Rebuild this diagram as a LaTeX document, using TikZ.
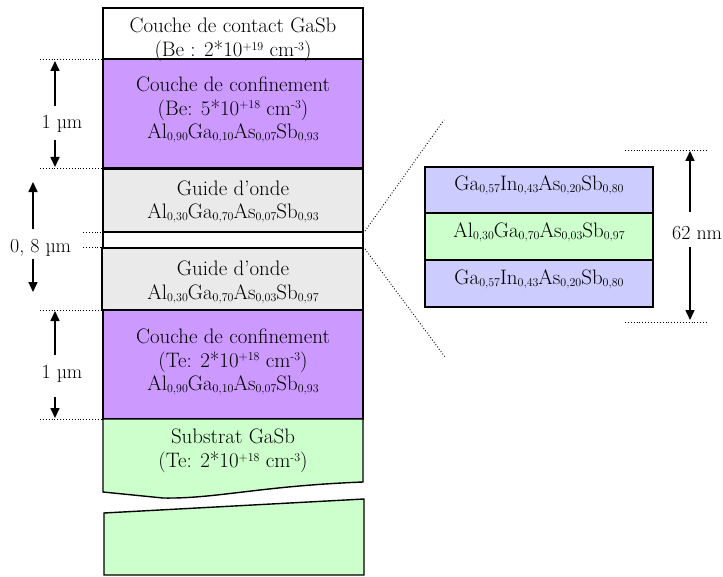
\documentclass[tikz,border=0pt]{standalone}
\usepackage{fontspec}
\usetikzlibrary{arrows.meta}
\definecolor{purp}{RGB}{204,153,255}
\definecolor{lgrey}{RGB}{234,234,234}
\definecolor{lgreen}{RGB}{204,255,204}
\definecolor{lblue}{RGB}{204,204,255}
\newcommand\ix[1]{\raisebox{-0.25ex}{\fontsize{12}{12}\selectfont #1}}
\newcommand\ex[1]{\raisebox{0.7ex}{\fontsize{12}{12}\selectfont #1}}
\tikzset{
  layer/.style={draw=black,line width=1.4bp,inner sep=0pt},
  lbl/.style={align=center,font=\fontsize{21}{23.5}\selectfont,inner sep=0pt,anchor=center},
  dimtxt/.style={font=\fontsize{20}{20}\selectfont,inner sep=0pt},
  guide/.style={dotted,line width=0.9bp},
  dimarrow/.style={line width=1.6bp,-{Triangle[length=10bp,width=9bp]}}
}
\begin{document}
\begin{tikzpicture}[x=1bp,y=-1bp]
\useasboundingbox (0,0) rectangle (723,577);
% main stack
\draw[layer,fill=white] (103,8) rectangle (363,59);
\draw[layer,fill=purp] (103,59) rectangle (363,168);
\draw[layer,fill=lgrey] (103,169) rectangle (363,232);
\draw[layer,fill=white] (103,232) rectangle (363,248);
\draw[layer,fill=lgrey] (102,248) rectangle (363,310);
\draw[layer,fill=purp] (103,310) rectangle (363,419);
\draw[layer,fill=lgreen] (103,419) -- (363,419) -- (363,482)
   .. controls (260,486) and (215,499) .. (163,498) -- (103,492) -- cycle;
\draw[layer,fill=lgreen] (104,513) -- (364,499) -- (364,575) -- (104,575) -- cycle;
% texts
\node[lbl] (t1) at (233,40) {Couche de contact GaSb\\(Be : 2*10\ex{+19} cm\ex{-3})};
\node[lbl] (t2) at (233,110) {Couche de confinement\\(Be: 5*10\ex{+18} cm\ex{-3})\\Al\ix{0,90}Ga\ix{0,10}As\ix{0,07}Sb\ix{0,93}};
\node[lbl] (t3) at (233,202) {Guide d'onde\\Al\ix{0,30}Ga\ix{0,70}As\ix{0,07}Sb\ix{0,93}};
\node[lbl] (t4) at (233,282.5) {Guide d'onde\\Al\ix{0,30}Ga\ix{0,70}As\ix{0,03}Sb\ix{0,97}};
\node[lbl] (t5) at (233,362) {Couche de confinement\\(Te: 2*10\ex{+18} cm\ex{-3})\\Al\ix{0,90}Ga\ix{0,10}As\ix{0,07}Sb\ix{0,93}};
\node[lbl] (t6) at (233,451) {Substrat GaSb\\(Te: 2*10\ex{+18} cm\ex{-3})};
% inset
\draw[layer,fill=lblue] (425,167) rectangle (653,213);
\draw[layer,fill=lgreen] (425,213) rectangle (653,260);
\draw[layer,fill=lblue] (425,260) rectangle (653,307);
\node[lbl] (q1) at (539,185) {Ga\ix{0,57}In\ix{0,43}As\ix{0,20}Sb\ix{0,80}};
\node[lbl] (q2) at (539,232) {Al\ix{0,30}Ga\ix{0,70}As\ix{0,03}Sb\ix{0,97}};
\node[lbl] (q3) at (539,279) {Ga\ix{0,57}In\ix{0,43}As\ix{0,20}Sb\ix{0,80}};
% zoom lines
\coordinate (z1) at (365,231);
\coordinate (z1e) at (444,120);
\coordinate (z2) at (365,249);
\coordinate (z2e) at (445,357);
\draw[guide] (z1) -- (z1e);
\draw[guide] (z2) -- (z2e);
% dimension guides left
\draw[guide] (40,59) -- (103,59);
\draw[guide] (40,168) -- (103,168);
\draw[guide] (83,232) -- (103,232);
\draw[guide] (83,247) -- (103,247);
\draw[guide] (40,310) -- (103,310);
\draw[guide] (40,419) -- (103,419);
% 1 um top
\node[dimtxt] (d1) at (62,124) {1 µm};
\coordinate (a1) at (55,61); \coordinate (a1t) at (55,106);
\coordinate (a2) at (55,140); \coordinate (a2t) at (55,167);
\draw[dimarrow] (a1t) -- (a1);
\draw[dimarrow] (a2) -- (a2t);
% 0,8 um
\node[dimtxt,anchor=west] (d2) at (10,248) {0, 8 µm};
\coordinate (b1) at (33,182); \coordinate (b1t) at (33,229);
\coordinate (b2) at (33,259); \coordinate (b2t) at (33,292);
\draw[dimarrow] (b1t) -- (b1);
\draw[dimarrow] (b2) -- (b2t);
% 1 um bottom
\node[dimtxt] (d3) at (62,374) {1 µm};
\coordinate (c1a) at (55,311); \coordinate (c1b) at (55,355);
\coordinate (c2a) at (55,397); \coordinate (c2b) at (55,418);
\draw[dimarrow] (c1b) -- (c1a);
\draw[dimarrow] (c2a) -- (c2b);
% 62 nm
\draw[guide] (625,150) -- (707,150);
\draw[guide] (625,322) -- (707,322);
\node[dimtxt,anchor=west] (d4) at (672,233) {62 nm};
\coordinate (e1) at (690,151); \coordinate (e1t) at (690,212);
\coordinate (e2) at (690,247); \coordinate (e2t) at (690,320);
\draw[dimarrow] (e1t) -- (e1);
\draw[dimarrow] (e2) -- (e2t);
\end{tikzpicture}
\end{document}
